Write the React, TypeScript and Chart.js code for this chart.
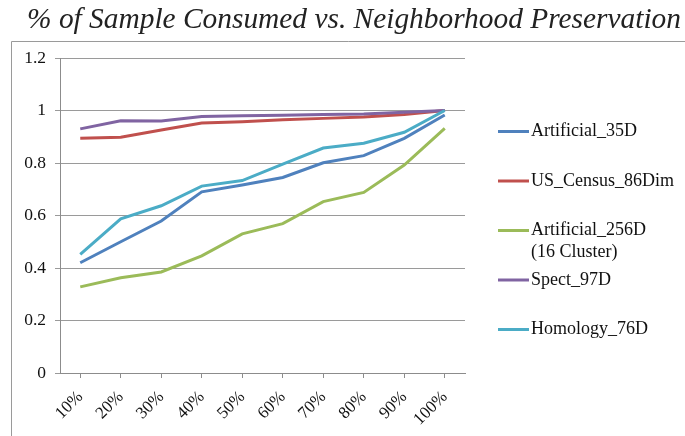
import React, { useEffect, useRef } from "react";
import { Chart, registerables } from "chart.js";

Chart.register(...registerables);

const categories = ["10%", "20%", "30%", "40%", "50%", "60%", "70%", "80%", "90%", "100%"];
const artificial35D = [0.42, 0.5, 0.579, 0.69, 0.716, 0.745, 0.801, 0.828, 0.894, 0.983];
const usCensus86Dim = [0.894, 0.898, 0.926, 0.952, 0.957, 0.965, 0.97, 0.975, 0.985, 1.0];
const artificial256D = [0.328, 0.363, 0.385, 0.446, 0.53, 0.569, 0.653, 0.688, 0.792, 0.932];
const spect97D = [0.93, 0.961, 0.96, 0.977, 0.98, 0.982, 0.985, 0.987, 0.993, 1.0];
const homology76D = [0.452, 0.587, 0.637, 0.712, 0.733, 0.796, 0.857, 0.875, 0.917, 1.0];
const seriesLabels = ["Artificial_35D", "US_Census_86Dim", "Artificial_256D\n(16 Cluster)", "Spect_97D", "Homology_76D"];
const seriesColors = ["#4F81BD", "#C0504D", "#9BBB59", "#8064A2", "#4BACC6"];
const titleText = "% of Sample Consumed vs. Neighborhood Preservation";

const SERIF = "'Liberation Serif', 'Times New Roman', serif";

const decorPlugin = {
  id: "decor",
  beforeDraw(chart: any) {
    const ctx = chart.ctx;
    ctx.save();
    ctx.strokeStyle = "#9a9a9a";
    ctx.lineWidth = 1;
    ctx.beginPath();
    ctx.moveTo(11.5, 436);
    ctx.lineTo(11.5, 41.5);
    ctx.lineTo(685, 41.5);
    ctx.stroke();
    ctx.fillStyle = "#222";
    ctx.font = "italic 29.4px " + SERIF;
    ctx.textAlign = "center";
    ctx.textBaseline = "alphabetic";
    ctx.fillText(titleText, 354, 28);
    ctx.restore();
  },
  afterDraw(chart: any) {
    const ctx = chart.ctx;
    ctx.save();
    ctx.font = "18px " + SERIF;
    ctx.textBaseline = "middle";
    ctx.textAlign = "left";
    chart.data.datasets.forEach((ds: any, i: number) => {
      const y = 131.5 + i * 49.5;
      ctx.strokeStyle = ds.borderColor;
      ctx.lineWidth = 3;
      ctx.beginPath();
      ctx.moveTo(498, y);
      ctx.lineTo(529, y);
      ctx.stroke();
      ctx.fillStyle = "#111";
      String(ds.label).split("\n").forEach((line: string, j: number) => {
        ctx.fillText(line, 531, y + j * 22);
      });
    });
    ctx.restore();
  },
};

export default function App() {
  const ref = useRef<HTMLCanvasElement>(null);
  useEffect(() => {
    if (!ref.current) return;
    const all = [artificial35D, usCensus86Dim, artificial256D, spect97D, homology76D];
    const chart = new Chart(ref.current, {
      type: "line",
      data: {
        labels: categories,
        datasets: all.map((d, i) => ({
          label: seriesLabels[i],
          data: d,
          borderColor: seriesColors[i],
          backgroundColor: seriesColors[i],
          borderWidth: 3,
          pointRadius: 0,
          tension: 0,
          fill: false,
          order: all.length - 1 - i,
        })),
      },
      options: {
        animation: false,
        responsive: false,
        layout: { padding: { left: 0, top: 58, right: 220, bottom: 0 } },
        plugins: { legend: { display: false }, title: { display: false }, tooltip: { enabled: false } },
        scales: {
          x: {
            offset: true,
            afterFit: (s: any) => { s.height = 63; },
            grid: { display: true, drawOnChartArea: false, drawTicks: true, tickLength: 5, color: "#8c8c8c" },
            border: { display: true, color: "#8c8c8c", width: 1 },
            ticks: { minRotation: 45, maxRotation: 45, autoSkip: false, padding: 9, color: "#111", font: { family: SERIF, size: 17 } },
          },
          y: {
            min: 0,
            max: 1.2,
            afterFit: (s: any) => { s.width = 60; },
            grid: { color: "#9a9a9a", tickLength: 5, drawTicks: true },
            border: { display: true, color: "#8c8c8c", width: 1 },
            ticks: {
              stepSize: 0.2,
              padding: 9,
              color: "#111",
              font: { family: SERIF, size: 17.5 },
              callback: (v: any) => String(Number(Number(v).toFixed(1))),
            },
          },
        },
      },
      plugins: [decorPlugin],
    });
    return () => chart.destroy();
  }, []);
  return (
    <div style={{ position: "fixed", left: 0, top: 0, width: 685, height: 436, background: "#fff" }}>
      <canvas ref={ref} width={685} height={436} />
    </div>
  );
}
